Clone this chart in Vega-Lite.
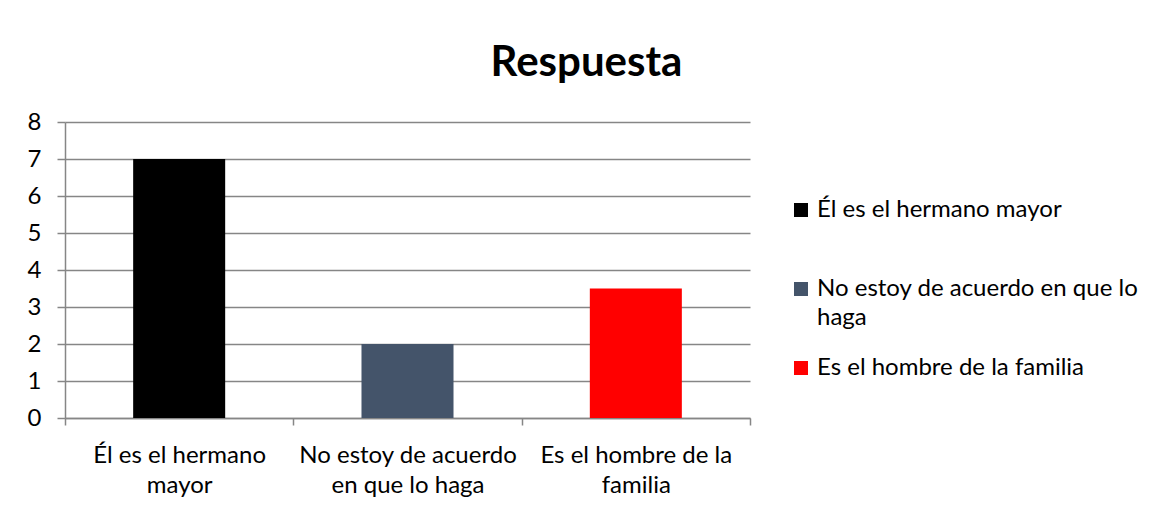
{
  "$schema": "https://vega.github.io/schema/vega-lite/v6.json",
  "autosize": {"type": "none"},
  "width": 685,
  "height": 296,
  "padding": {"left": 65, "top": 122, "right": 422, "bottom": 95},
  "background": "white",
  "config": {
    "view": {"stroke": null},
    "font": "Lato"
  },
  "title": {
    "text": "Respuesta",
    "font": "Lato",
    "fontSize": 42,
    "fontWeight": "bold",
    "color": "#000000",
    "anchor": "middle",
    "frame": "group",
    "baseline": "alphabetic",
    "offset": -8,
    "dx": 179
  },
  "data": {
    "values": [
      {"categoria": "Él es el hermano mayor", "valor": 7},
      {"categoria": "No estoy de acuerdo en que lo haga", "valor": 2},
      {"categoria": "Es el hombre de la familia", "valor": 3.5}
    ]
  },
  "mark": {"type": "bar", "width": {"band": 0.403}},
  "encoding": {
    "x": {
      "field": "categoria",
      "type": "nominal",
      "sort": null,
      "scale": {"paddingInner": 0, "paddingOuter": 0},
      "axis": {
        "title": null,
        "labelAngle": 0,
        "tickBand": "extent",
        "domainColor": "#868686",
        "domainWidth": 1.5,
        "tickColor": "#868686",
        "tickWidth": 1.5,
        "tickSize": 7,
        "labelFont": "Lato",
        "labelFontSize": 24,
        "labelColor": "#000000",
        "labelLineHeight": 30,
        "labelPadding": 18,
        "labelLimit": 300,
        "labelExpr": "datum.value == 'Él es el hermano mayor' ? ['Él es el hermano', 'mayor'] : datum.value == 'No estoy de acuerdo en que lo haga' ? ['No estoy de acuerdo', 'en que lo haga'] : datum.value == 'Es el hombre de la familia' ? ['Es el hombre de la', 'familia'] : ''"
      }
    },
    "y": {
      "field": "valor",
      "type": "quantitative",
      "scale": {"domain": [0, 8], "nice": false},
      "axis": {
        "title": null,
        "values": [0, 1, 2, 3, 4, 5, 6, 7, 8],
        "grid": true,
        "gridColor": "#868686",
        "gridWidth": 1.5,
        "domainColor": "#868686",
        "domainWidth": 1.5,
        "tickColor": "#868686",
        "tickWidth": 1.5,
        "tickSize": 8,
        "labelFont": "Lato",
        "labelFontSize": 24,
        "labelColor": "#000000",
        "labelPadding": 16
      }
    },
    "color": {
      "field": "categoria",
      "type": "nominal",
      "sort": null,
      "scale": {
        "domain": ["Él es el hermano mayor", "No estoy de acuerdo en que lo haga", "Es el hombre de la familia"],
        "range": ["#000000", "#44546A", "#FF0000"]
      },
      "legend": {
        "title": null,
        "orient": "none",
        "legendX": 724,
        "legendY": 76,
        "symbolType": "square",
        "symbolSize": 196,
        "symbolStrokeWidth": 0,
        "labelFont": "Lato",
        "labelFontSize": 24,
        "labelColor": "#000000",
        "labelOffset": 4,
        "labelLimit": 400,
        "rowPadding": 26,
        "labelExpr": "datum.value == 'No estoy de acuerdo en que lo haga' ? ['No estoy de acuerdo en que lo', 'haga'] : datum.value == 'Él es el hermano mayor' ? ['Él es el hermano mayor', ''] : datum.value",
        "encode": {"labels": {"update": {"lineHeight": {"value": 29}}}}
      }
    }
  }
}
